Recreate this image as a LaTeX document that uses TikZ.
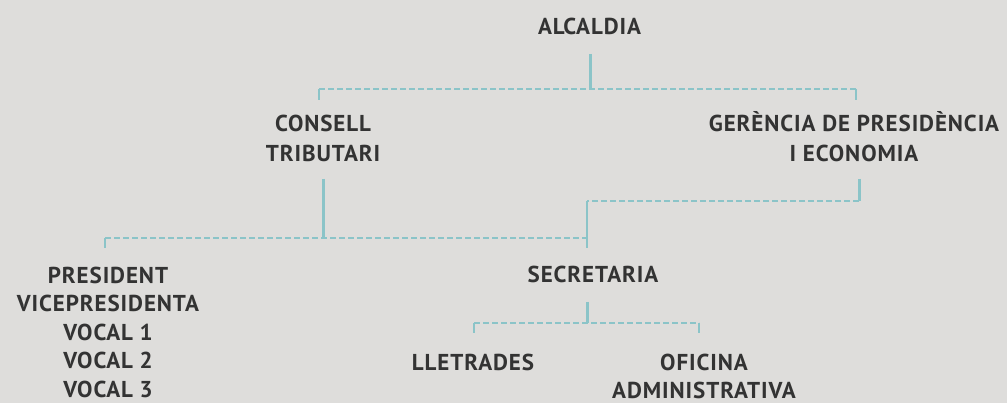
\documentclass[tikz,border=0pt]{standalone}
\usepackage{fontspec}
\setmainfont{PT Sans}[LetterSpace=4]
\usetikzlibrary{positioning}
\definecolor{fons}{HTML}{DEDDDB}
\definecolor{gristext}{HTML}{333333}
\definecolor{linia}{HTML}{8BC4C8}

\begin{document}
\begin{tikzpicture}[x=1pt, y=-1pt,
    every node/.style={font=\bfseries\fontsize{23}{29.5}\selectfont, text=gristext, align=center, inner sep=0pt, anchor=base},
    tronc/.style={draw=linia, line width=3pt},
    pota/.style={draw=linia, line width=1.5pt},
    branca/.style={draw=linia, line width=1.5pt, dash pattern=on 6pt off 3pt}]

    \useasboundingbox[fill=fons] (0,0) rectangle (1007,403);

    % òrgans (base = última línia)
    \node (alcaldia) at (589.5,34.5) {ALCALDIA};
    \node (consell) at (323,161.5) {CONSELL\\TRIBUTARI};
    \node (gerencia) at (854,161.5) {GERÈNCIA DE PRESIDÈNCIA\\I ECONOMIA};
    \node[font=\bfseries\fontsize{23}{28.5}\selectfont] (membres) at (108,397) {PRESIDENT\\VICEPRESIDENTA\\VOCAL 1\\VOCAL 2\\VOCAL 3};
    \node (secretaria) at (593,283) {SECRETARIA};
    \node (lletrades) at (473,370.5) {LLETRADES};
    \node[font=\bfseries\fontsize{23}{28}\selectfont] (oficina) at (704,398) {OFICINA\\ADMINISTRATIVA};

    % punts d'unió
    \coordinate (alc-a) at (590,54);
    \coordinate (alc-b) at (590,89);
    \coordinate (alc-e) at (319,89);
    \coordinate (alc-ee) at (319,100);
    \coordinate (alc-d) at (856,89);
    \coordinate (alc-dd) at (856,100);

    \coordinate (con-a) at (323,179);
    \coordinate (con-b) at (323,238);
    \coordinate (con-e) at (105,238);
    \coordinate (con-ee) at (105,248);
    \coordinate (con-d) at (587,238);

    \coordinate (ger-a) at (859,179);
    \coordinate (ger-b) at (859,201);
    \coordinate (ger-e) at (587,201);
    \coordinate (ger-ee) at (587,248);

    \coordinate (sec-a) at (587,302);
    \coordinate (sec-b) at (587,323);
    \coordinate (sec-e) at (474,323);
    \coordinate (sec-ee) at (474,333);
    \coordinate (sec-d) at (699,323);
    \coordinate (sec-dd) at (699,333);

    % alcaldia
    \draw[tronc] (alc-a) -- (alc-b);
    \draw[branca] (alc-e) -- (alc-d);
    \draw[pota] (alc-e) -- (alc-ee);
    \draw[pota] (alc-d) -- (alc-dd);

    % consell tributari
    \draw[tronc] (con-a) -- (con-b);
    \draw[branca] (con-e) -- (con-d);
    \draw[pota] (con-e) -- (con-ee);

    % gerència cap a secretaria
    \draw[tronc] (ger-a) -- (ger-b);
    \draw[branca] (ger-b) -- (ger-e);
    \draw[pota] (ger-e) -- (ger-ee);

    % secretaria
    \draw[tronc] (sec-a) -- (sec-b);
    \draw[branca] (sec-e) -- (sec-d);
    \draw[pota] (sec-e) -- (sec-ee);
    \draw[pota] (sec-d) -- (sec-dd);

\end{tikzpicture}
\end{document}
